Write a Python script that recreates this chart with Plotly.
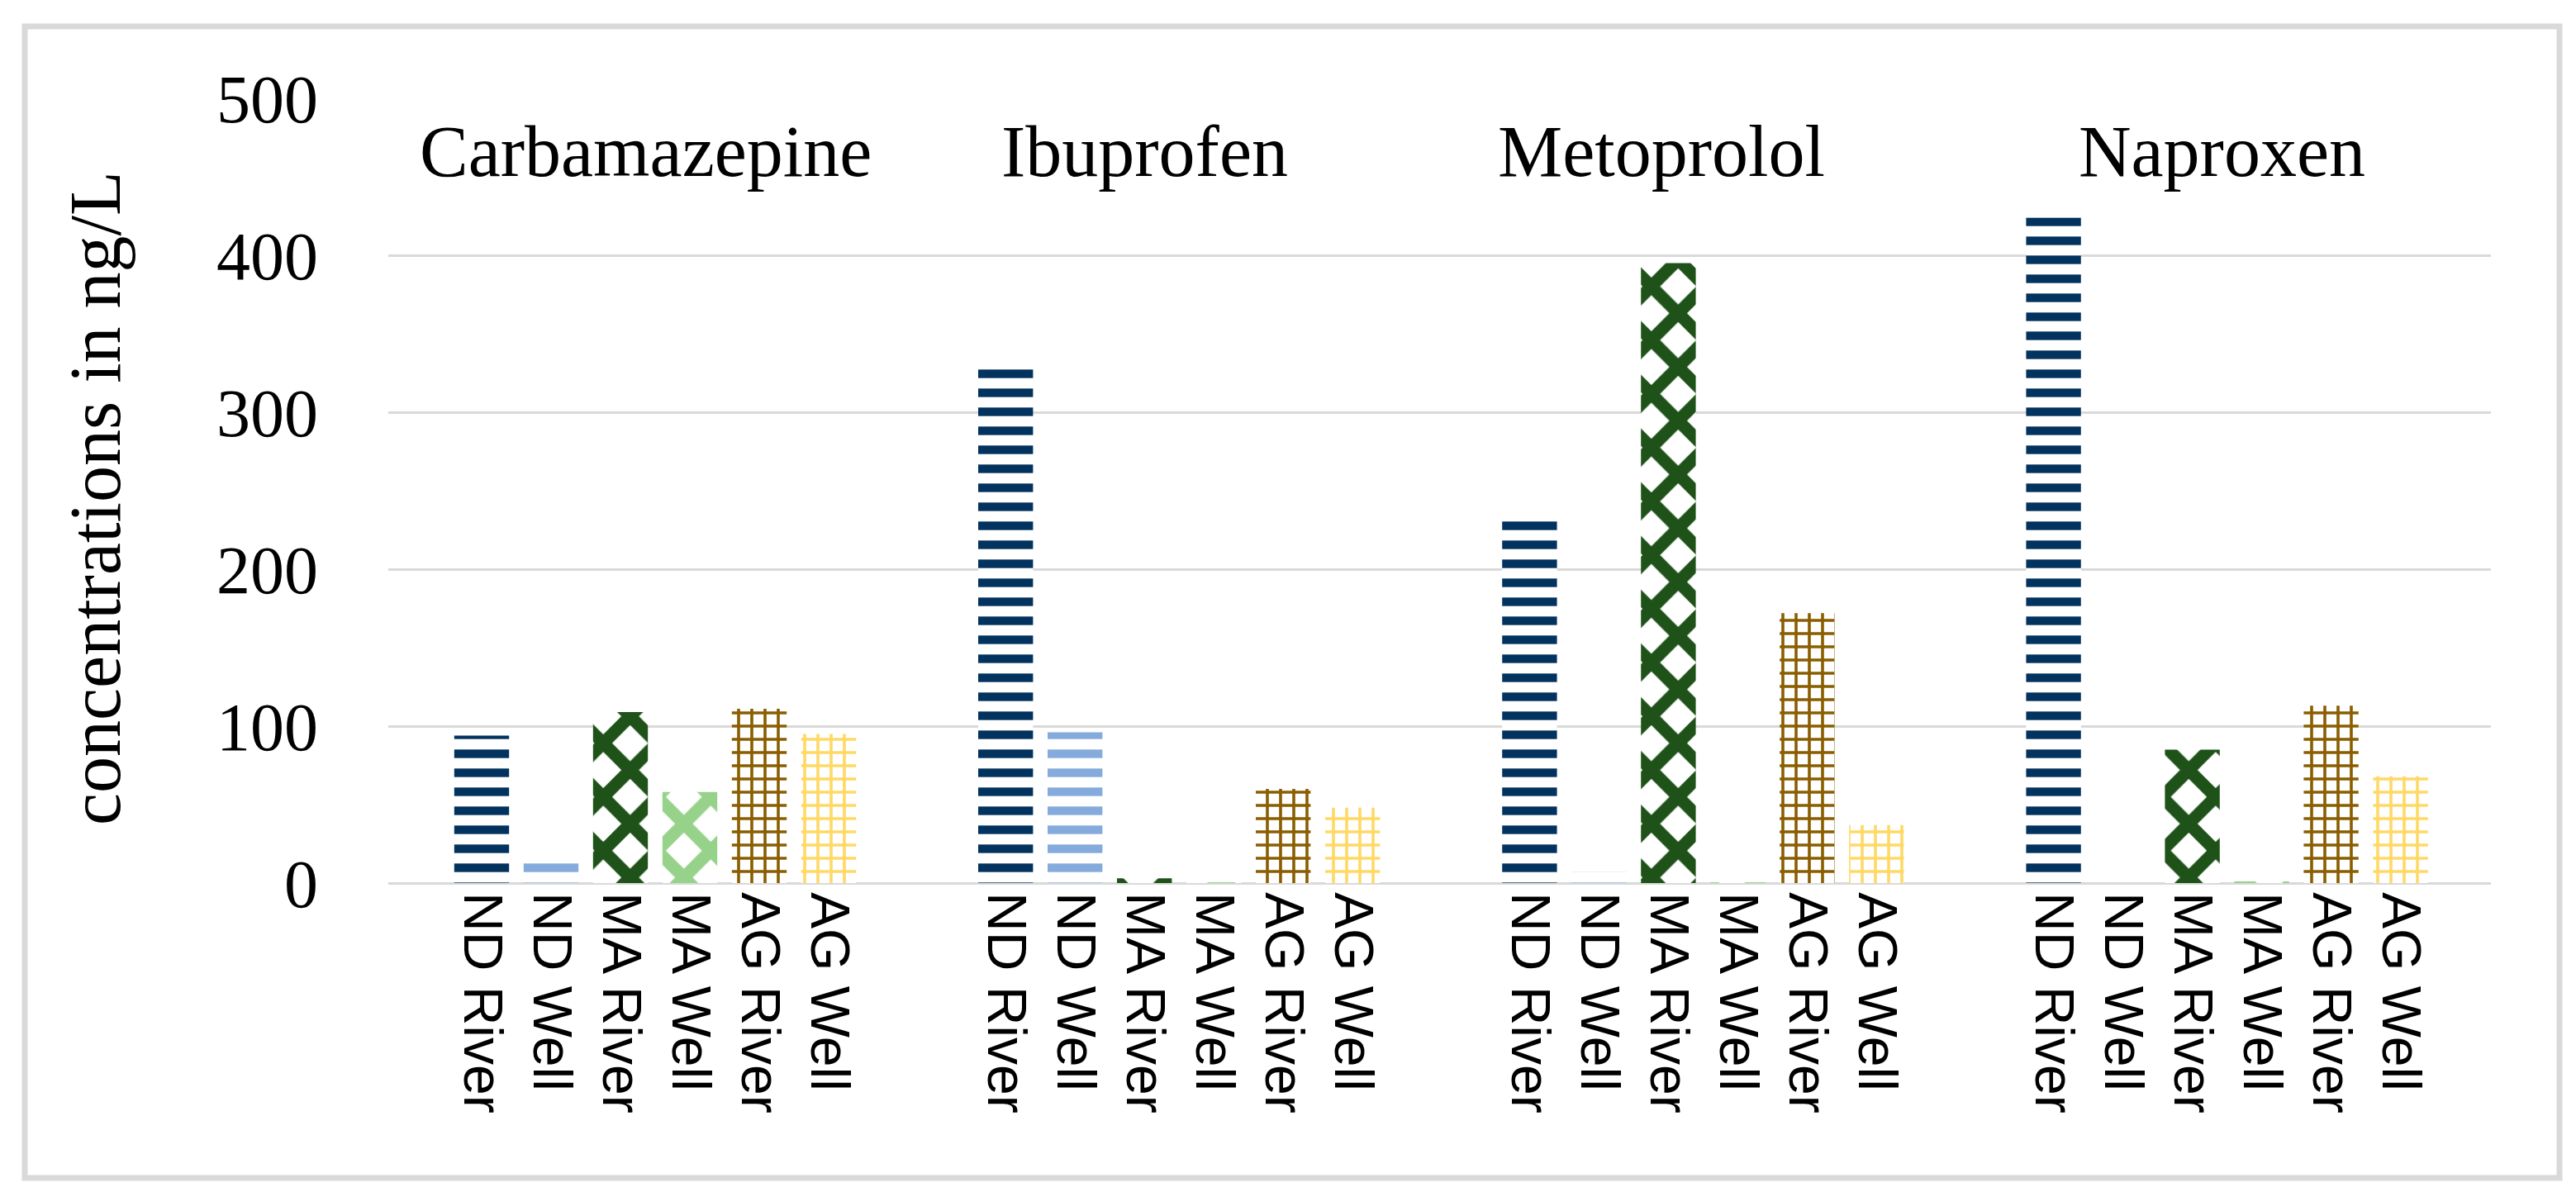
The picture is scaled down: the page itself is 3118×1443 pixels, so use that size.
import plotly.graph_objects as go

# data (ng/L)
compounds = ["Carbamazepine", "Ibuprofen", "Metoprolol", "Naproxen"]
sites = ["ND River", "ND Well", "MA River", "MA Well", "AG River", "AG Well"]

nd_river = [94, 333, 231, 424]
nd_well = [18, 96, 7, 0]
ma_river = [109, 3, 395, 85]
ma_well = [58, 0.5, 0.5, 0.6]
ag_river = [111, 60, 172, 113]
ag_well = [95, 48, 37, 68]

y_ticks = [0, 100, 200, 300, 400, 500]

series = [nd_river, nd_well, ma_river, ma_well, ag_river, ag_well]
colors = ["#02325e", "#84abdc", "#1e5219", "#97d28a", "#8a5e00", "#ffd966"]
shapes = ["-", "-", "x", "x", "+", "+"]
pat_size = [23, 23, 46, 46, 16, 16]
pat_solid = [0.45, 0.45, 0.55, 0.55, 0.4, 0.4]

# layout of the category slots: 6 bars per compound, gap between compounds
GROUP_STEP = 7.55

W, H = 3118, 1443
L, R, T, B = 462, 3118 - 3007, 111, 1443 - 1061
plot_w = W - L - R
plot_h = H - T - B


def px_x(px):
    return (px - L) / plot_w


def px_y(py):
    return (H - B - py) / plot_h


fig = go.Figure()

tick_pos = []
tick_txt = []
for g in range(len(compounds)):
    for i, s in enumerate(sites):
        tick_pos.append(g * GROUP_STEP + i)
        tick_txt.append(s)

for i, s in enumerate(sites):
    xs = [g * GROUP_STEP + i for g in range(len(compounds))]
    fig.add_trace(
        go.Bar(
            x=xs,
            y=series[i],
            name=s,
            width=0.79,
            marker=dict(
                color=colors[i],
                line=dict(width=0),
                pattern=dict(
                    shape=shapes[i],
                    fgcolor=colors[i],
                    fgopacity=1,
                    bgcolor="white",
                    size=pat_size[i],
                    solidity=pat_solid[i],
                ),
            ),
        )
    )

# compound names inside the plot
label_x = [2.36, 9.55, 17.0, 25.08]
for name, xc in zip(compounds, label_x):
    fig.add_annotation(
        x=xc, y=466, xref="x", yref="y",
        text=name, showarrow=False,
        xanchor="center", yanchor="middle",
        font=dict(family="Liberation Serif", size=88, color="black"),
    )

# y axis title
fig.add_annotation(
    x=px_x(107), y=px_y(595), xref="paper", yref="paper",
    text="concentrations in ng/L", showarrow=False, textangle=-90,
    xanchor="center", yanchor="middle",
    font=dict(family="Liberation Serif", size=88, color="black"),
)

# chart area border
fig.add_shape(
    type="rect", xref="paper", yref="paper",
    x0=px_x(22), x1=px_x(3090), y0=px_y(1418), y1=px_y(24),
    line=dict(color="#d9d9d9", width=7), fillcolor="rgba(0,0,0,0)",
    layer="below",
)

fig.update_layout(
    width=W,
    height=H,
    margin=dict(l=L, r=R, t=T, b=B),
    paper_bgcolor="white",
    plot_bgcolor="white",
    barmode="overlay",
    showlegend=False,
    xaxis=dict(
        range=[(462 - 575) / 84, (3007 - 575) / 84],
        tickmode="array",
        tickvals=tick_pos,
        ticktext=tick_txt,
        tickangle=90,
        ticklabelstandoff=10,
        tickfont=dict(family="Liberation Sans", size=66, color="black"),
        showgrid=False,
        zeroline=False,
        showline=False,
        ticks="",
    ),
    yaxis=dict(
        range=[0, 500],
        tickmode="array",
        tickvals=y_ticks,
        ticktext=[str(v) for v in y_ticks],
        tickfont=dict(family="Liberation Serif", size=82, color="black"),
        ticklabelstandoff=84,
        showgrid=True,
        gridcolor="#d9d9d9",
        gridwidth=3,
        zeroline=True,
        zerolinecolor="#d9d9d9",
        zerolinewidth=3,
        showline=False,
        ticks="",
    ),
)

fig.write_html("out.html")
